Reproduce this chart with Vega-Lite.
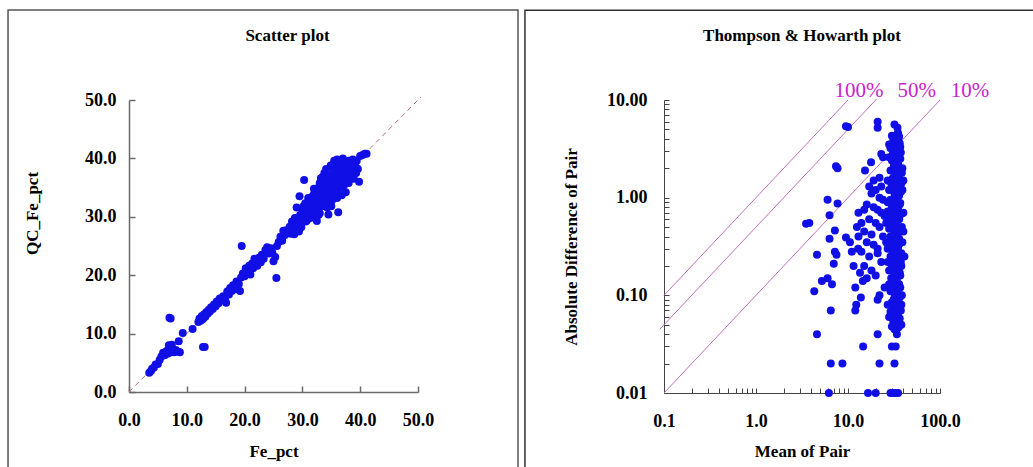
{
  "$schema": "https://vega.github.io/schema/vega-lite/v6.json",
  "padding": {"left": 7, "top": 9, "right": 0, "bottom": 0},
  "background": "white",
  "spacing": 5,
  "config": {
    "view": {"stroke": null},
    "font": "Liberation Serif",
    "axis": {
      "grid": false,
      "labelFont": "Liberation Serif",
      "labelFontSize": 18,
      "labelFontWeight": "bold",
      "labelColor": "#000000",
      "titleFont": "Liberation Serif",
      "titleFontSize": 17,
      "titleFontWeight": "bold",
      "titleColor": "#000000",
      "domainColor": "#6a6a6a",
      "tickColor": "#6a6a6a",
      "labelOverlap": false,
      "labelFlush": false,
      "labelBound": false
    },
    "title": {"font": "Liberation Serif", "fontSize": 17, "fontWeight": "bold", "color": "#000000"}
  },
  "datasets": {
    "scatter": [
      {"Fe_pct":3.5,"QC_Fe_pct":3.3},{"Fe_pct":3.8,"QC_Fe_pct":3.6},{"Fe_pct":4.0,"QC_Fe_pct":4.0},{"Fe_pct":4.3,"QC_Fe_pct":4.2},{"Fe_pct":4.6,"QC_Fe_pct":4.7},{"Fe_pct":5.0,"QC_Fe_pct":4.8},{"Fe_pct":5.3,"QC_Fe_pct":5.5},{"Fe_pct":5.6,"QC_Fe_pct":6.1},{"Fe_pct":5.9,"QC_Fe_pct":6.7},{"Fe_pct":6.2,"QC_Fe_pct":6.3},{"Fe_pct":6.5,"QC_Fe_pct":7.0},{"Fe_pct":6.8,"QC_Fe_pct":6.6},{"Fe_pct":7.0,"QC_Fe_pct":7.6},{"Fe_pct":7.2,"QC_Fe_pct":6.9},{"Fe_pct":7.5,"QC_Fe_pct":7.3},{"Fe_pct":7.8,"QC_Fe_pct":6.8},{"Fe_pct":8.1,"QC_Fe_pct":7.2},{"Fe_pct":8.5,"QC_Fe_pct":6.9},{"Fe_pct":8.8,"QC_Fe_pct":6.8},{"Fe_pct":6.9,"QC_Fe_pct":8.0},{"Fe_pct":7.4,"QC_Fe_pct":8.1},{"Fe_pct":8.6,"QC_Fe_pct":8.7},{"Fe_pct":9.3,"QC_Fe_pct":10.1},{"Fe_pct":11.0,"QC_Fe_pct":10.8},{"Fe_pct":7.0,"QC_Fe_pct":12.7},{"Fe_pct":7.2,"QC_Fe_pct":12.6},{"Fe_pct":12.8,"QC_Fe_pct":7.7},{"Fe_pct":13.1,"QC_Fe_pct":7.7},
      {"Fe_pct":12.0,"QC_Fe_pct":12.0},{"Fe_pct":12.2,"QC_Fe_pct":12.6},{"Fe_pct":12.4,"QC_Fe_pct":12.2},{"Fe_pct":12.6,"QC_Fe_pct":13.0},{"Fe_pct":12.8,"QC_Fe_pct":12.5},{"Fe_pct":13.0,"QC_Fe_pct":13.3},{"Fe_pct":13.2,"QC_Fe_pct":12.9},{"Fe_pct":13.4,"QC_Fe_pct":13.7},{"Fe_pct":13.6,"QC_Fe_pct":13.4},{"Fe_pct":13.8,"QC_Fe_pct":14.1},{"Fe_pct":14.0,"QC_Fe_pct":13.8},{"Fe_pct":14.2,"QC_Fe_pct":14.5},{"Fe_pct":14.5,"QC_Fe_pct":14.2},{"Fe_pct":14.7,"QC_Fe_pct":15.0},{"Fe_pct":15.0,"QC_Fe_pct":14.7},{"Fe_pct":15.2,"QC_Fe_pct":15.5},{"Fe_pct":15.5,"QC_Fe_pct":15.2},{"Fe_pct":15.7,"QC_Fe_pct":16.0},{"Fe_pct":16.0,"QC_Fe_pct":15.8},{"Fe_pct":16.3,"QC_Fe_pct":16.4},{"Fe_pct":16.6,"QC_Fe_pct":15.9},{"Fe_pct":16.8,"QC_Fe_pct":15.3},{"Fe_pct":17.0,"QC_Fe_pct":17.2},{"Fe_pct":17.3,"QC_Fe_pct":16.7},{"Fe_pct":17.5,"QC_Fe_pct":17.8},{"Fe_pct":17.8,"QC_Fe_pct":17.3},{"Fe_pct":18.0,"QC_Fe_pct":18.3},{"Fe_pct":18.3,"QC_Fe_pct":17.6},{"Fe_pct":18.6,"QC_Fe_pct":18.9},{"Fe_pct":19.0,"QC_Fe_pct":18.5},{"Fe_pct":19.2,"QC_Fe_pct":17.3},{"Fe_pct":19.4,"QC_Fe_pct":19.6},{"Fe_pct":19.7,"QC_Fe_pct":20.3},{"Fe_pct":20.0,"QC_Fe_pct":19.8},{"Fe_pct":20.2,"QC_Fe_pct":21.2},{"Fe_pct":20.5,"QC_Fe_pct":20.4},{"Fe_pct":20.8,"QC_Fe_pct":21.6},{"Fe_pct":21.0,"QC_Fe_pct":20.1},{"Fe_pct":21.3,"QC_Fe_pct":22.0},{"Fe_pct":21.5,"QC_Fe_pct":21.2},{"Fe_pct":21.7,"QC_Fe_pct":22.8},{"Fe_pct":22.0,"QC_Fe_pct":22.3},{"Fe_pct":22.2,"QC_Fe_pct":21.6},{"Fe_pct":22.5,"QC_Fe_pct":23.0},{"Fe_pct":22.8,"QC_Fe_pct":22.2},{"Fe_pct":23.0,"QC_Fe_pct":23.5},{"Fe_pct":23.3,"QC_Fe_pct":22.8},{"Fe_pct":23.6,"QC_Fe_pct":24.3},{"Fe_pct":23.9,"QC_Fe_pct":24.8},{"Fe_pct":24.2,"QC_Fe_pct":23.7},{"Fe_pct":24.5,"QC_Fe_pct":24.6},{"Fe_pct":24.8,"QC_Fe_pct":23.9},{"Fe_pct":25.0,"QC_Fe_pct":22.4},{"Fe_pct":25.3,"QC_Fe_pct":23.1},{"Fe_pct":25.5,"QC_Fe_pct":19.5},{"Fe_pct":19.5,"QC_Fe_pct":25.0},{"Fe_pct":25.6,"QC_Fe_pct":25.0},{"Fe_pct":25.9,"QC_Fe_pct":25.7},{"Fe_pct":26.2,"QC_Fe_pct":26.6},{"Fe_pct":26.5,"QC_Fe_pct":25.9},{"Fe_pct":26.7,"QC_Fe_pct":27.6},{"Fe_pct":27.0,"QC_Fe_pct":26.9},{"Fe_pct":27.2,"QC_Fe_pct":27.7},{"Fe_pct":27.5,"QC_Fe_pct":27.3},
      {"Fe_pct":27.8,"QC_Fe_pct":28.3},{"Fe_pct":28.0,"QC_Fe_pct":27.1},{"Fe_pct":28.2,"QC_Fe_pct":29.2},{"Fe_pct":28.4,"QC_Fe_pct":28.0},{"Fe_pct":28.6,"QC_Fe_pct":27.0},{"Fe_pct":28.7,"QC_Fe_pct":29.8},{"Fe_pct":28.9,"QC_Fe_pct":28.6},{"Fe_pct":29.0,"QC_Fe_pct":31.6},{"Fe_pct":29.2,"QC_Fe_pct":29.4},{"Fe_pct":29.4,"QC_Fe_pct":27.5},{"Fe_pct":29.5,"QC_Fe_pct":33.5},{"Fe_pct":29.6,"QC_Fe_pct":30.3},{"Fe_pct":29.8,"QC_Fe_pct":28.9},{"Fe_pct":30.0,"QC_Fe_pct":31.0},{"Fe_pct":30.1,"QC_Fe_pct":29.7},{"Fe_pct":30.3,"QC_Fe_pct":36.3},{"Fe_pct":30.4,"QC_Fe_pct":30.6},{"Fe_pct":30.5,"QC_Fe_pct":32.3},{"Fe_pct":30.6,"QC_Fe_pct":29.2},{"Fe_pct":30.8,"QC_Fe_pct":31.5},{"Fe_pct":31.0,"QC_Fe_pct":30.4},{"Fe_pct":31.1,"QC_Fe_pct":32.8},{"Fe_pct":31.3,"QC_Fe_pct":31.3},{"Fe_pct":31.4,"QC_Fe_pct":29.8},{"Fe_pct":31.6,"QC_Fe_pct":33.4},{"Fe_pct":31.7,"QC_Fe_pct":32.0},{"Fe_pct":31.9,"QC_Fe_pct":30.8},{"Fe_pct":32.0,"QC_Fe_pct":33.9},{"Fe_pct":32.1,"QC_Fe_pct":32.5},{"Fe_pct":32.3,"QC_Fe_pct":31.4},{"Fe_pct":32.4,"QC_Fe_pct":34.5},{"Fe_pct":32.5,"QC_Fe_pct":29.3},{"Fe_pct":32.6,"QC_Fe_pct":33.2},{"Fe_pct":32.8,"QC_Fe_pct":35.0},{"Fe_pct":32.9,"QC_Fe_pct":32.0},{"Fe_pct":33.0,"QC_Fe_pct":30.6},{"Fe_pct":33.1,"QC_Fe_pct":34.0},{"Fe_pct":33.2,"QC_Fe_pct":36.6},{"Fe_pct":33.3,"QC_Fe_pct":33.3},{"Fe_pct":33.4,"QC_Fe_pct":31.8},{"Fe_pct":33.5,"QC_Fe_pct":35.3},{"Fe_pct":33.6,"QC_Fe_pct":34.3},{"Fe_pct":33.7,"QC_Fe_pct":32.4},{"Fe_pct":33.8,"QC_Fe_pct":37.5},{"Fe_pct":33.9,"QC_Fe_pct":35.8},{"Fe_pct":34.0,"QC_Fe_pct":33.6},{"Fe_pct":34.1,"QC_Fe_pct":38.2},{"Fe_pct":34.2,"QC_Fe_pct":34.8},{"Fe_pct":34.3,"QC_Fe_pct":31.6},{"Fe_pct":34.4,"QC_Fe_pct":36.4},{"Fe_pct":34.5,"QC_Fe_pct":30.4},{"Fe_pct":34.5,"QC_Fe_pct":33.0},{"Fe_pct":34.6,"QC_Fe_pct":35.6},{"Fe_pct":34.7,"QC_Fe_pct":37.0},{"Fe_pct":34.8,"QC_Fe_pct":34.1},{"Fe_pct":34.9,"QC_Fe_pct":38.8},{"Fe_pct":35.0,"QC_Fe_pct":36.0},{"Fe_pct":35.1,"QC_Fe_pct":32.8},{"Fe_pct":35.2,"QC_Fe_pct":35.0},{"Fe_pct":35.3,"QC_Fe_pct":37.6},{"Fe_pct":35.4,"QC_Fe_pct":34.0},{"Fe_pct":35.5,"QC_Fe_pct":39.6},{"Fe_pct":35.6,"QC_Fe_pct":36.6},{"Fe_pct":35.7,"QC_Fe_pct":33.6},{"Fe_pct":35.8,"QC_Fe_pct":38.4},{"Fe_pct":35.9,"QC_Fe_pct":35.4},{"Fe_pct":36.0,"QC_Fe_pct":37.3},{"Fe_pct":36.1,"QC_Fe_pct":34.6},{"Fe_pct":36.2,"QC_Fe_pct":30.8},{"Fe_pct":36.3,"QC_Fe_pct":39.0},{"Fe_pct":36.4,"QC_Fe_pct":36.1},{"Fe_pct":36.5,"QC_Fe_pct":38.0},{"Fe_pct":36.6,"QC_Fe_pct":35.0},{"Fe_pct":36.7,"QC_Fe_pct":37.0},{"Fe_pct":36.8,"QC_Fe_pct":33.7},{"Fe_pct":36.9,"QC_Fe_pct":39.4},{"Fe_pct":37.0,"QC_Fe_pct":36.4},{"Fe_pct":37.1,"QC_Fe_pct":38.3},{"Fe_pct":37.2,"QC_Fe_pct":35.4},{"Fe_pct":37.3,"QC_Fe_pct":37.6},{"Fe_pct":37.5,"QC_Fe_pct":39.0},{"Fe_pct":37.6,"QC_Fe_pct":36.7},{"Fe_pct":37.8,"QC_Fe_pct":38.6},{"Fe_pct":38.0,"QC_Fe_pct":35.8},{"Fe_pct":38.1,"QC_Fe_pct":37.9},{"Fe_pct":38.3,"QC_Fe_pct":39.3},{"Fe_pct":38.5,"QC_Fe_pct":37.0},{"Fe_pct":38.7,"QC_Fe_pct":38.4},{"Fe_pct":38.9,"QC_Fe_pct":36.5},{"Fe_pct":39.0,"QC_Fe_pct":39.0},{"Fe_pct":39.3,"QC_Fe_pct":37.5},{"Fe_pct":39.6,"QC_Fe_pct":38.2},{"Fe_pct":39.8,"QC_Fe_pct":36.0},{"Fe_pct":40.0,"QC_Fe_pct":40.4},{"Fe_pct":40.4,"QC_Fe_pct":40.6},{"Fe_pct":40.8,"QC_Fe_pct":40.8},{"Fe_pct":41.1,"QC_Fe_pct":40.8},{"Fe_pct":36.0,"QC_Fe_pct":39.8},{"Fe_pct":37.0,"QC_Fe_pct":40.0},{"Fe_pct":38.0,"QC_Fe_pct":39.6},{"Fe_pct":39.2,"QC_Fe_pct":38.6},{"Fe_pct":34.0,"QC_Fe_pct":37.2},{"Fe_pct":33.0,"QC_Fe_pct":35.8},{"Fe_pct":32.0,"QC_Fe_pct":34.8},{"Fe_pct":31.0,"QC_Fe_pct":33.2},{"Fe_pct":33.5,"QC_Fe_pct":36.8},{"Fe_pct":35.0,"QC_Fe_pct":38.8},{"Fe_pct":36.5,"QC_Fe_pct":39.2},{"Fe_pct":37.5,"QC_Fe_pct":34.2},{"Fe_pct":36.0,"QC_Fe_pct":33.2},{"Fe_pct":35.0,"QC_Fe_pct":31.8},{"Fe_pct":32.8,"QC_Fe_pct":30.3},{"Fe_pct":31.8,"QC_Fe_pct":30.0},{"Fe_pct":30.8,"QC_Fe_pct":29.4},{"Fe_pct":29.8,"QC_Fe_pct":28.2},{"Fe_pct":38.5,"QC_Fe_pct":38.8},{"Fe_pct":37.8,"QC_Fe_pct":37.3},{"Fe_pct":36.8,"QC_Fe_pct":36.4},{"Fe_pct":35.8,"QC_Fe_pct":36.9},
      {"Fe_pct":30.2,"QC_Fe_pct":31.8},{"Fe_pct":31.2,"QC_Fe_pct":30.9},{"Fe_pct":32.2,"QC_Fe_pct":33.5},{"Fe_pct":32.7,"QC_Fe_pct":31.2},{"Fe_pct":33.2,"QC_Fe_pct":32.4},{"Fe_pct":33.7,"QC_Fe_pct":34.8},{"Fe_pct":34.2,"QC_Fe_pct":33.2},{"Fe_pct":34.7,"QC_Fe_pct":32.2},{"Fe_pct":35.2,"QC_Fe_pct":36.6},{"Fe_pct":35.7,"QC_Fe_pct":35.2},{"Fe_pct":36.2,"QC_Fe_pct":36.8},{"Fe_pct":36.7,"QC_Fe_pct":38.4},{"Fe_pct":37.2,"QC_Fe_pct":36.0},{"Fe_pct":37.7,"QC_Fe_pct":38.0},{"Fe_pct":38.2,"QC_Fe_pct":36.5},{"Fe_pct":38.7,"QC_Fe_pct":39.8},{"Fe_pct":39.4,"QC_Fe_pct":39.6},{"Fe_pct":34.9,"QC_Fe_pct":35.2},{"Fe_pct":35.4,"QC_Fe_pct":37.8},{"Fe_pct":36.3,"QC_Fe_pct":35.6},{"Fe_pct":33.9,"QC_Fe_pct":36.8},{"Fe_pct":32.9,"QC_Fe_pct":34.4},{"Fe_pct":31.9,"QC_Fe_pct":32.7},{"Fe_pct":30.9,"QC_Fe_pct":31.8},{"Fe_pct":29.9,"QC_Fe_pct":30.1},{"Fe_pct":28.9,"QC_Fe_pct":29.3},{"Fe_pct":35.6,"QC_Fe_pct":34.6},{"Fe_pct":36.6,"QC_Fe_pct":37.6},{"Fe_pct":37.4,"QC_Fe_pct":38.8},{"Fe_pct":34.3,"QC_Fe_pct":35.5}
    ],
    "th": [
      {"mean":3.5,"diff":0.54},{"mean":3.8,"diff":0.55},{"mean":9.5,"diff":5.4},{"mean":10,"diff":5.3},{"mean":7.4,"diff":2.1},{"mean":7.7,"diff":2.0},{"mean":6.0,"diff":0.95},{"mean":7.7,"diff":0.87},{"mean":6.3,"diff":0.66},{"mean":7.2,"diff":0.46},{"mean":6.3,"diff":0.38},{"mean":7.2,"diff":0.28},{"mean":7.5,"diff":0.26},{"mean":7.0,"diff":0.21},{"mean":4.6,"diff":0.26},{"mean":4.3,"diff":0.11},{"mean":5.2,"diff":0.14},{"mean":6.0,"diff":0.15},{"mean":6.7,"diff":0.13},{"mean":6.5,"diff":0.07},{"mean":4.6,"diff":0.04},{"mean":6.5,"diff":0.02},{"mean":8.7,"diff":0.02},{"mean":6.2,"diff":0.01},
      {"mean":21,"diff":6.0},{"mean":21,"diff":5.2},{"mean":17.8,"diff":2.3},{"mean":15.3,"diff":1.9},{"mean":22,"diff":1.6},{"mean":23,"diff":2.8},{"mean":24,"diff":2.6},{"mean":20,"diff":1.2},{"mean":18,"diff":1.1},{"mean":22,"diff":1.0},{"mean":24,"diff":0.95},{"mean":16,"diff":0.85},{"mean":19,"diff":0.8},{"mean":21,"diff":0.75},{"mean":23,"diff":0.7},{"mean":25,"diff":0.65},{"mean":17,"diff":0.6},{"mean":20,"diff":0.55},{"mean":22,"diff":0.5},{"mean":14,"diff":0.55},{"mean":12.5,"diff":0.5},{"mean":15,"diff":0.45},{"mean":18,"diff":0.42},{"mean":24,"diff":0.4},{"mean":13,"diff":0.4},{"mean":16,"diff":0.35},{"mean":19,"diff":0.33},{"mean":21,"diff":0.3},{"mean":12.9,"diff":0.3},{"mean":14,"diff":0.28},{"mean":17,"diff":0.25},{"mean":23,"diff":0.22},{"mean":15,"diff":0.2},{"mean":18,"diff":0.18},{"mean":20,"diff":0.16},{"mean":16,"diff":0.15},{"mean":11.5,"diff":0.2},{"mean":13.5,"diff":0.17},{"mean":14.5,"diff":0.14},{"mean":25,"diff":0.12},{"mean":12,"diff":0.12},{"mean":13.8,"diff":0.095},{"mean":22,"diff":0.1},{"mean":21,"diff":0.09},{"mean":12.3,"diff":0.08},{"mean":12,"diff":0.07},{"mean":14.6,"diff":0.03},{"mean":16.5,"diff":0.01},{"mean":20,"diff":0.01},{"mean":21,"diff":0.04},{"mean":22,"diff":0.02},{"mean":21,"diff":0.27},{"mean":9.5,"diff":0.39},{"mean":10.5,"diff":0.35},{"mean":11,"diff":0.28},{"mean":13,"diff":0.7},{"mean":15,"diff":0.75},{"mean":17,"diff":1.3},{"mean":19,"diff":1.5},{"mean":23,"diff":1.3},
      {"mean":30,"diff":4.3},{"mean":32,"diff":4.0},{"mean":34,"diff":4.4},{"mean":31,"diff":3.8},{"mean":33,"diff":3.5},{"mean":35,"diff":3.9},{"mean":29,"diff":3.2},{"mean":36,"diff":3.0},{"mean":31,"diff":2.9},{"mean":33,"diff":2.6},{"mean":34,"diff":2.8},{"mean":30,"diff":2.4},{"mean":35,"diff":2.2},{"mean":37,"diff":2.5},{"mean":32,"diff":2.0},{"mean":29,"diff":1.9},{"mean":34,"diff":1.8},{"mean":36,"diff":1.7},{"mean":31,"diff":1.6},{"mean":33,"diff":1.5},{"mean":38,"diff":1.4},{"mean":30,"diff":1.3},{"mean":35,"diff":1.25},{"mean":28,"diff":1.2},{"mean":32,"diff":1.1},{"mean":36,"diff":1.05},{"mean":34,"diff":1.0},{"mean":29,"diff":0.95},{"mean":31,"diff":0.9},{"mean":37,"diff":0.88},{"mean":33,"diff":0.85},{"mean":30,"diff":0.8},{"mean":35,"diff":0.75},{"mean":27,"diff":0.72},{"mean":32,"diff":0.7},{"mean":38,"diff":0.68},{"mean":34,"diff":0.65},{"mean":29,"diff":0.62},{"mean":36,"diff":0.6},{"mean":31,"diff":0.58},{"mean":33,"diff":0.55},{"mean":30,"diff":0.52},{"mean":35,"diff":0.5},{"mean":28,"diff":0.48},{"mean":37,"diff":0.46},{"mean":32,"diff":0.45},{"mean":40,"diff":0.45},{"mean":34,"diff":0.42},{"mean":29,"diff":0.4},{"mean":36,"diff":0.38},{"mean":31,"diff":0.36},{"mean":33,"diff":0.35},{"mean":30,"diff":0.33},{"mean":35,"diff":0.31},{"mean":27,"diff":0.3},{"mean":32,"diff":0.29},{"mean":38,"diff":0.27},{"mean":34,"diff":0.26},{"mean":29,"diff":0.25},{"mean":36,"diff":0.24},{"mean":31,"diff":0.22},{"mean":33,"diff":0.21},{"mean":30,"diff":0.2},{"mean":35,"diff":0.19},{"mean":28,"diff":0.18},{"mean":32,"diff":0.17},{"mean":37,"diff":0.16},{"mean":34,"diff":0.15},{"mean":30,"diff":0.14},{"mean":36,"diff":0.13},{"mean":31,"diff":0.12},{"mean":33,"diff":0.115},{"mean":29,"diff":0.11},{"mean":35,"diff":0.1},{"mean":32,"diff":0.095},{"mean":34,"diff":0.09},{"mean":30,"diff":0.085},{"mean":36,"diff":0.08},{"mean":31,"diff":0.075},{"mean":33,"diff":0.07},{"mean":29,"diff":0.068},{"mean":35,"diff":0.065},{"mean":32,"diff":0.06},{"mean":34,"diff":0.057},{"mean":31,"diff":0.055},{"mean":36,"diff":0.052},{"mean":33,"diff":0.05},{"mean":30,"diff":0.048},{"mean":38,"diff":0.05},{"mean":32,"diff":0.045},{"mean":34,"diff":0.04},{"mean":30,"diff":0.03},{"mean":33,"diff":0.03},{"mean":32,"diff":0.02},{"mean":29,"diff":0.01},{"mean":31,"diff":0.01},{"mean":33,"diff":0.01},{"mean":35,"diff":0.01},{"mean":32,"diff":5.6},{"mean":35,"diff":4.6},{"mean":37,"diff":3.3},{"mean":39,"diff":2.0},{"mean":39,"diff":1.2},{"mean":40,"diff":0.7},{"mean":39,"diff":0.35},{"mean":38,"diff":0.2},{"mean":37,"diff":0.12},{"mean":38,"diff":0.08},{"mean":36,"diff":4.2},{"mean":28,"diff":3.5},{"mean":28,"diff":2.6},{"mean":27,"diff":1.5},{"mean":27,"diff":0.9},{"mean":26,"diff":0.55},{"mean":26,"diff":0.35},{"mean":27,"diff":0.22},{"mean":28,"diff":0.13},{"mean":27,"diff":0.08},{"mean":28,"diff":0.06},
      {"mean":33.5,"diff":4.1},{"mean":31.5,"diff":3.6},{"mean":34.5,"diff":3.2},{"mean":32.5,"diff":3.0},{"mean":30.5,"diff":2.7},{"mean":35.5,"diff":2.6},{"mean":33.5,"diff":2.3},{"mean":31.5,"diff":2.1},{"mean":36.5,"diff":2.0},{"mean":34.5,"diff":1.9},{"mean":32.5,"diff":1.7},{"mean":30.5,"diff":1.55},{"mean":35.5,"diff":1.45},{"mean":33.5,"diff":1.35},{"mean":31.5,"diff":1.25},{"mean":37.5,"diff":1.15},{"mean":34.5,"diff":1.1},{"mean":32.5,"diff":1.0},{"mean":30.5,"diff":0.92},{"mean":36.5,"diff":0.85},{"mean":33.5,"diff":0.78},{"mean":31.5,"diff":0.72},{"mean":35.5,"diff":0.66},{"mean":34.5,"diff":0.6},{"mean":32.5,"diff":0.56},{"mean":30.5,"diff":0.5},{"mean":37.5,"diff":0.48},{"mean":33.5,"diff":0.44},{"mean":31.5,"diff":0.4},{"mean":35.5,"diff":0.37},{"mean":36.5,"diff":0.34},{"mean":32.5,"diff":0.32},{"mean":34.5,"diff":0.3},{"mean":30.5,"diff":0.28},{"mean":33.5,"diff":0.26},{"mean":31.5,"diff":0.24},{"mean":37.5,"diff":0.22},{"mean":35.5,"diff":0.21},{"mean":32.5,"diff":0.19},{"mean":34.5,"diff":0.18},{"mean":36.5,"diff":0.17},{"mean":33.5,"diff":0.16},{"mean":30.5,"diff":0.15},{"mean":31.5,"diff":0.14},{"mean":35.5,"diff":0.13},{"mean":32.5,"diff":0.12},{"mean":34.5,"diff":0.11},{"mean":33.5,"diff":0.1},{"mean":36.5,"diff":0.095},{"mean":31.5,"diff":0.09},{"mean":35.5,"diff":0.082},{"mean":32.5,"diff":0.078},{"mean":34.5,"diff":0.072},{"mean":33.5,"diff":0.065},{"mean":30.5,"diff":0.06},{"mean":36.5,"diff":0.058},{"mean":31.5,"diff":0.052},{"mean":35.5,"diff":0.047},{"mean":33.5,"diff":0.044},{"mean":37.5,"diff":0.07},{"mean":38.5,"diff":0.1},{"mean":38.5,"diff":0.5},{"mean":38.5,"diff":1.8},{"mean":37.5,"diff":2.9},{"mean":36.5,"diff":3.6},{"mean":34.5,"diff":5.2},{"mean":29.5,"diff":1.4},{"mean":29.5,"diff":0.7},{"mean":29.5,"diff":0.3},{"mean":29.5,"diff":0.15},{"mean":28.5,"diff":0.9},{"mean":28.5,"diff":0.35},{"mean":41,"diff":0.25},{"mean":40,"diff":1.5}
    ]
  },
  "hconcat": [
    {
      "width": 289,
      "height": 292,
      "title": {"text": "Scatter plot", "anchor": "middle", "dx": 14, "offset": -53, "baseline": "bottom"},
      "layer": [
        {
          "data": {"values": [{}]},
          "mark": {"type": "rect", "fill": null, "stroke": "#555555", "strokeWidth": 1.5},
          "encoding": {
            "x": {"datum": -20.93, "type": "quantitative", "scale": {"domain": [0, 50], "nice": false}},
            "x2": {"datum": 67.3},
            "y": {"datum": -13.5, "type": "quantitative", "scale": {"domain": [0, 50], "nice": false}},
            "y2": {"datum": 65.4}
          }
        },
        {
          "data": {"values": [{"Fe_pct": 0, "QC_Fe_pct": 0}, {"Fe_pct": 50.5, "QC_Fe_pct": 50.5}]},
          "mark": {"type": "line", "color": "#b86a6a", "strokeWidth": 1, "strokeDash": [5, 4]},
          "encoding": {
            "x": {"field": "Fe_pct", "type": "quantitative"},
            "y": {"field": "QC_Fe_pct", "type": "quantitative"}
          }
        },
        {
          "data": {"name": "scatter"},
          "mark": {"type": "circle", "color": "#1010e6", "opacity": 1, "size": 64},
          "encoding": {
            "x": {"field": "Fe_pct", "type": "quantitative", "scale": {"domain": [0, 50], "nice": false},
                  "axis": {"title": "Fe_pct", "values": [0, 10, 20, 30, 40, 50], "format": ".1f", "tickSize": -6, "labelPadding": 25, "titlePadding": 14, "domainWidth": 1.5, "tickWidth": 1.5}},
            "y": {"field": "QC_Fe_pct", "type": "quantitative", "scale": {"domain": [0, 50], "nice": false},
                  "axis": {"title": "QC_Fe_pct", "values": [0, 10, 20, 30, 40, 50], "format": ".1f", "tickSize": -6, "labelPadding": 19, "titlePadding": 43, "titleY": 113, "domainWidth": 1.5, "tickWidth": 1.5}}
          }
        }
      ]
    },
    {
      "width": 276,
      "height": 293,
      "title": {"text": "Thompson & Howarth plot", "anchor": "middle", "offset": -53, "baseline": "bottom"},
      "layer": [
        {
          "data": {"values": [{}]},
          "mark": {"type": "rect", "fill": null, "stroke": "#333333", "strokeWidth": 1.5},
          "encoding": {
            "x": {"datum": 0.00308, "type": "quantitative", "scale": {"type": "log", "domain": [0.1, 100], "nice": false}},
            "x2": {"datum": 1052},
            "y": {"datum": 0.00159, "type": "quantitative", "scale": {"type": "log", "domain": [0.01, 10], "nice": false}},
            "y2": {"datum": 83.2}
          }
        },
        {
          "data": {"values": [
            {"pct": "100%", "mean": 0.1, "diff": 0.1}, {"pct": "100%", "mean": 10, "diff": 10},
            {"pct": "50%", "mean": 0.09, "diff": 0.045}, {"pct": "50%", "mean": 20.5, "diff": 10.25},
            {"pct": "10%", "mean": 0.1, "diff": 0.01}, {"pct": "10%", "mean": 100, "diff": 10}
          ]},
          "mark": {"type": "line", "color": "#c070c0", "strokeWidth": 1},
          "encoding": {
            "x": {"field": "mean", "type": "quantitative"},
            "y": {"field": "diff", "type": "quantitative"},
            "detail": {"field": "pct"}
          }
        },
        {
          "data": {"values": [
            {"label": "100%", "mean": 13.2, "diff": 12.3},
            {"label": "50%", "mean": 56, "diff": 12.3},
            {"label": "10%", "mean": 212, "diff": 12.3}
          ]},
          "mark": {"type": "text", "font": "Liberation Serif", "fontSize": 21, "color": "#cc22cc", "baseline": "middle", "align": "center"},
          "encoding": {
            "x": {"field": "mean", "type": "quantitative"},
            "y": {"field": "diff", "type": "quantitative"},
            "text": {"field": "label"}
          }
        },
        {
          "data": {"name": "th"},
          "mark": {"type": "circle", "color": "#1010e6", "opacity": 1, "size": 64},
          "encoding": {
            "x": {"field": "mean", "type": "quantitative", "scale": {"type": "log", "domain": [0.1, 100], "nice": false},
                  "axis": {"title": "Mean of Pair", "values": [0.1,0.2,0.3,0.4,0.5,0.6,0.7,0.8,0.9,1,2,3,4,5,6,7,8,9,10,20,30,40,50,60,70,80,90,100], "format": ".1f",
                           "labelExpr": "(datum.value == 0.1 || datum.value == 1 || datum.value == 10 || datum.value == 100) ? datum.label : ''",
                           "tickSize": -5, "labelPadding": 24, "titlePadding": 13, "domainColor": "#444444", "tickColor": "#444444"}},
            "y": {"field": "diff", "type": "quantitative", "scale": {"type": "log", "domain": [0.01, 10], "nice": false},
                  "axis": {"title": "Absolute Difference of Pair", "values": [0.01,0.02,0.03,0.04,0.05,0.06,0.07,0.08,0.09,0.1,0.2,0.3,0.4,0.5,0.6,0.7,0.8,0.9,1,2,3,4,5,6,7,8,9,10], "format": ".2f",
                           "labelExpr": "(datum.value == 0.01 || datum.value == 0.1 || datum.value == 1 || datum.value == 10) ? datum.label : ''",
                           "tickSize": -5, "labelPadding": 22, "titlePadding": 26, "domainColor": "#444444", "tickColor": "#444444"}}
          }
        }
      ]
    }
  ]
}
